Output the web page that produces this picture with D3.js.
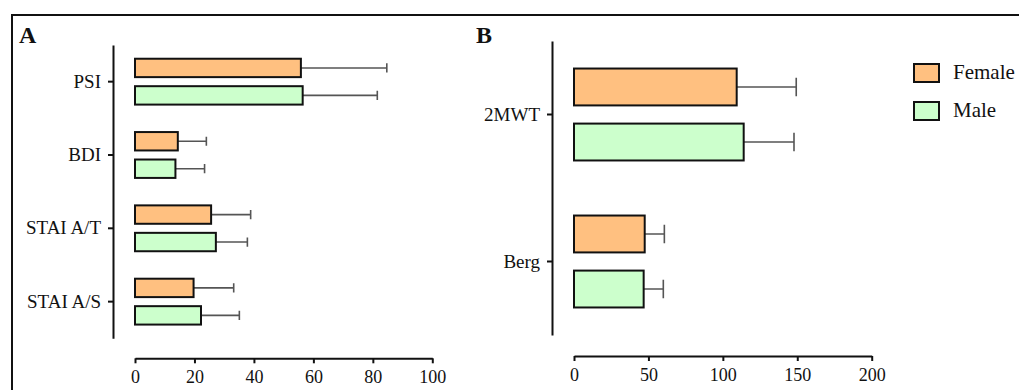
<!DOCTYPE html>
<html>
<head>
<meta charset="utf-8">
<script src="https://cdn.jsdelivr.net/npm/d3@7"></script>
<style>
  body { margin: 0; background: #fff; }
</style>
</head>
<body>
<div id="chart"></div>
<script>
// panel A: questionnaire scores
const categoriesA = ["PSI", "BDI", "STAI A/T", "STAI A/S"];
const femaleA = [55.8, 14.4, 25.6, 19.7];
const femaleSdA = [28.9, 9.6, 13.3, 13.5];
const maleA = [56.4, 13.6, 27.2, 22.2];
const maleSdA = [25.1, 9.8, 10.6, 12.9];
const ticksA = [0, 20, 40, 60, 80, 100];

// panel B: walking / balance tests
const categoriesB = ["2MWT", "Berg"];
const femaleB = [109.3, 47.5];
const femaleSdB = [40.0, 13.2];
const maleB = [114.0, 46.8];
const maleSdB = [33.8, 13.2];
const ticksB = [0, 50, 100, 150, 200];

const groups = ["Female", "Male"];
const colors = { Female: "#FFC080", Male: "#CCFFCC" };

const serif = "'Liberation Serif', serif";
const width = 1019, height = 390;

const svg = d3.select("#chart").append("svg")
  .attr("width", width)
  .attr("height", height)
  .attr("font-family", serif);

svg.append("rect").attr("width", width).attr("height", height).attr("fill", "#fff");

// outer frame (right and bottom edges are cut off in the original)
svg.append("path")
  .attr("d", `M12,${height} V15 H${width}`)
  .attr("fill", "none")
  .attr("stroke", "#111")
  .attr("stroke-width", 2);

function drawPanel(opts) {
  const { letter, letterX, cats, fem, femSd, mal, malSd, xDomain, xRange, yRange, axisX, axisY, ticks } = opts;

  const rows = cats.map((c, i) => ({
    cat: c,
    vals: [
      { g: "Female", v: fem[i], sd: femSd[i] },
      { g: "Male", v: mal[i], sd: malSd[i] }
    ]
  }));

  const y = d3.scaleBand().domain(cats).range(yRange);
  const yInner = d3.scaleBand().domain(groups).range([0, y.bandwidth()])
    .paddingInner(0.33).paddingOuter(0.5);
  const x = d3.scaleLinear().domain(xDomain).range(xRange);

  const g = svg.append("g");

  g.append("text")
    .attr("x", letterX).attr("y", 43)
    .style("font-family", serif)
    .style("font-size", "24px").style("font-weight", "bold")
    .attr("fill", "#111")
    .text(letter);

  // y axis
  const yAxis = g.append("g")
    .attr("transform", `translate(${axisX},0)`)
    .call(d3.axisLeft(y).tickSize(5).tickSizeOuter(0).tickPadding(7));
  yAxis.attr("font-family", serif);
  yAxis.select(".domain").attr("stroke", "#111").attr("stroke-width", 2);
  yAxis.selectAll(".tick line").attr("stroke", "#111").attr("stroke-width", 2);
  yAxis.selectAll(".tick text")
    .style("font-family", serif).style("font-size", "19px").attr("fill", "#111");

  // x axis
  const xAxis = g.append("g")
    .attr("transform", `translate(0,${axisY})`)
    .call(d3.axisBottom(x).tickValues(ticks).tickSize(5).tickSizeOuter(0).tickPadding(7));
  xAxis.attr("font-family", serif);
  xAxis.select(".domain").attr("stroke", "#111").attr("stroke-width", 2);
  xAxis.selectAll(".tick line").attr("stroke", "#111").attr("stroke-width", 2);
  xAxis.selectAll(".tick text")
    .style("font-family", serif).style("font-size", "18px").attr("fill", "#111");

  const rowG = g.selectAll(".row")
    .data(rows)
    .enter().append("g")
    .attr("transform", d => `translate(0,${y(d.cat)})`);

  const bh = yInner.bandwidth();

  // error bars
  rowG.selectAll(".err")
    .data(d => d.vals)
    .enter().append("path")
    .attr("d", d => {
      const cy = yInner(d.g) + bh / 2;
      const x0 = x(d.v), x1 = x(d.v + d.sd);
      return `M${x0},${cy} H${x1} M${x1},${cy - bh / 4} V${cy + bh / 4}`;
    })
    .attr("fill", "none")
    .attr("stroke", "#555")
    .attr("stroke-width", 1.6);

  rowG.selectAll(".bar")
    .data(d => d.vals)
    .enter().append("rect")
    .attr("x", x(0))
    .attr("y", d => yInner(d.g))
    .attr("width", d => x(d.v) - x(0))
    .attr("height", bh)
    .attr("fill", d => colors[d.g])
    .attr("stroke", "#111")
    .attr("stroke-width", 2);
}

drawPanel({
  letter: "A", letterX: 19,
  cats: categoriesA, fem: femaleA, femSd: femaleSdA, mal: maleA, malSd: maleSdA,
  xDomain: [0, 100], xRange: [135, 432.3], yRange: [45, 338.3],
  axisX: 113, axisY: 358.3, ticks: ticksA
});

drawPanel({
  letter: "B", letterX: 476,
  cats: categoriesB, fem: femaleB, femSd: femaleSdB, mal: maleB, malSd: maleSdB,
  xDomain: [0, 200], xRange: [574, 871.7], yRange: [41, 335],
  axisX: 552, axisY: 356, ticks: ticksB
});

// legend
const legend = svg.append("g")
  .selectAll("g")
  .data(groups)
  .enter().append("g")
  .attr("transform", (d, i) => `translate(914,${64 + i * 38})`);

legend.append("rect")
  .attr("width", 25).attr("height", 18)
  .attr("fill", d => colors[d])
  .attr("stroke", "#111")
  .attr("stroke-width", 2);

legend.append("text")
  .attr("x", 39).attr("y", 15)
  .style("font-family", serif)
  .style("font-size", "21px")
  .attr("fill", "#111")
  .text(d => d);
</script>
</body>
</html>
